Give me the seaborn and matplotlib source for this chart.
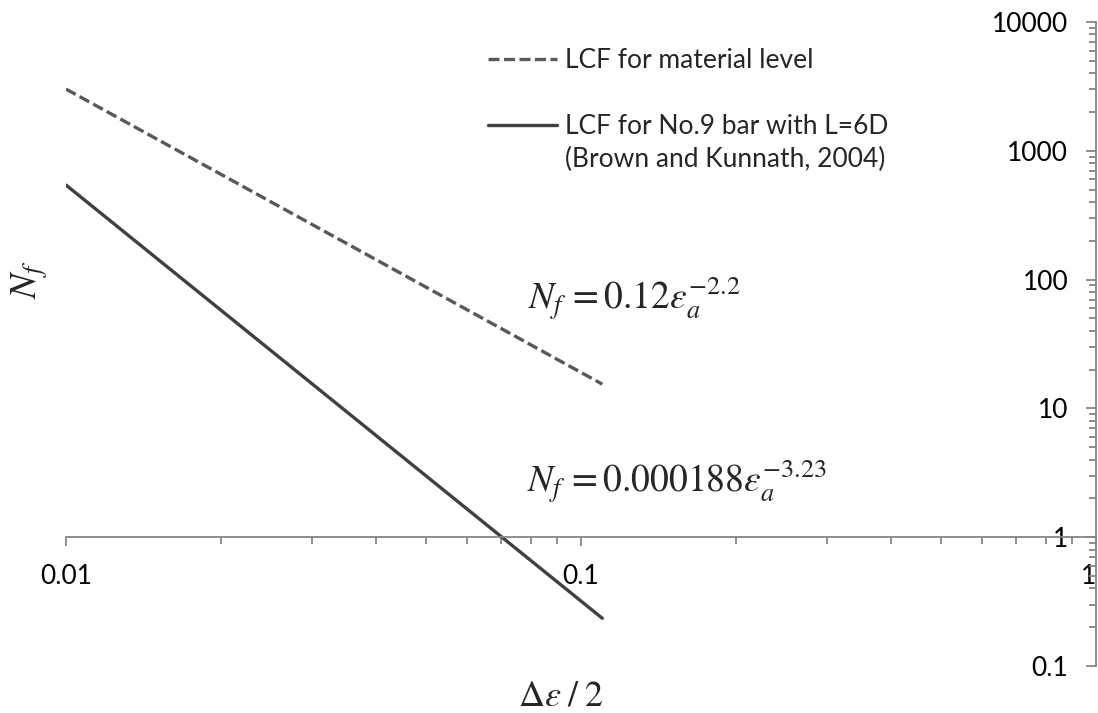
import numpy as np
import pandas as pd
import matplotlib
matplotlib.use("Agg")
import matplotlib.pyplot as plt
import seaborn as sns
from matplotlib.ticker import FixedLocator, LogLocator, NullFormatter
from matplotlib.lines import Line2D

# Low-cycle-fatigue power laws  N_f = C * eps_a ** b
series_names = ["LCF for material level", "LCF for No.9 bar with L=6D"]
coefficients = [0.12, 0.000188]
exponents = [-2.2, -3.23]
strain_range = [0.01, 0.11]
series_colors = ["#595959", "#404040"]

x_ticks = [0.01, 0.1, 1]
x_tick_labels = ["0.01", "0.1", "1"]
y_ticks = [0.1, 1, 10, 100, 1000, 10000]
y_tick_labels = ["0.1", "1", "10", "100", "1000", "10000"]

equation_labels = [r"$N_f\,=0.12\varepsilon_a^{-2.2}$",
                   r"$N_f\,=0.000188\varepsilon_a^{-3.23}$"]
source_note = "(Brown and Kunnath, 2004)"

rows = []
for name, c, b in zip(series_names, coefficients, exponents):
    for eps in strain_range:
        rows.append({"series": name, "strain": eps, "cycles": c * eps ** b})
df = pd.DataFrame(rows)

sns.set_theme(style="white")
plt.rcParams["font.family"] = ["Lato", "DejaVu Sans"]
plt.rcParams["mathtext.fontset"] = "stix"

W, H = 1098, 713
fig = plt.figure(figsize=(W / 100, H / 100), dpi=100)
ax_left, ax_right, ax_top, ax_bottom = 66, 1096, 22, 666
ax = fig.add_axes([ax_left / W, 1 - ax_bottom / H,
                   (ax_right - ax_left) / W, (ax_bottom - ax_top) / H])
ax.set_facecolor("white")

sns.lineplot(data=df, x="strain", y="cycles", hue="series", style="series",
             palette=series_colors, dashes={series_names[0]: (3.3, 1.35), series_names[1]: ""},
             linewidth=2.4, legend=False, ax=ax)

ax.set_xscale("log")
ax.set_yscale("log")
ax.set_xlim(0.01, 1)
ax.set_ylim(0.1, 10000)

axis_gray = "#868686"
for side in ["left", "top"]:
    ax.spines[side].set_visible(False)
ax.spines["bottom"].set_position(("data", 1))
for side in ["bottom", "right"]:
    ax.spines[side].set_color(axis_gray)
    ax.spines[side].set_linewidth(1.3)

# x axis crossing at N_f = 1
ax.xaxis.set_major_locator(FixedLocator(x_ticks))
ax.set_xticklabels(x_tick_labels)
ax.xaxis.set_minor_locator(LogLocator(base=10, subs=np.arange(2, 10)))
ax.xaxis.set_minor_formatter(NullFormatter())
ax.tick_params(axis="x", which="both", direction="out", color=axis_gray, width=1.3,
               bottom=True, top=False)
ax.tick_params(axis="x", which="major", length=6.5, pad=13, labelsize=19, labelcolor="black")
ax.tick_params(axis="x", which="minor", length=5)
# the last label sits on the figure's right edge; keep it inside
ax.get_xticklabels()[-1].set_horizontalalignment("right")

# y axis on the right edge, labels on its inner side
ax.yaxis.tick_right()
ax.yaxis.set_major_locator(FixedLocator(y_ticks))
ax.set_yticklabels(y_tick_labels)
ax.yaxis.set_minor_locator(LogLocator(base=10, subs=np.arange(2, 10)))
ax.yaxis.set_minor_formatter(NullFormatter())
ax.tick_params(axis="y", which="both", direction="in", color=axis_gray, width=1.3,
               left=False, right=True, labelleft=False, labelright=True)
ax.tick_params(axis="y", which="major", length=7, pad=-20, labelsize=19, labelcolor="black")
ax.tick_params(axis="y", which="minor", length=5)
for lbl in ax.get_yticklabels():
    lbl.set_horizontalalignment("right")

ax.set_xlabel(r"$\Delta\varepsilon\;/\;2$", fontsize=26, va="center")
ax.xaxis.set_label_coords((561 - ax_left) / (ax_right - ax_left),
                          (ax_bottom - 695) / (ax_bottom - ax_top))
ax.set_ylabel(r"$N_f$", fontsize=27, va="center")
ax.yaxis.set_label_coords((30 - ax_left) / (ax_right - ax_left),
                          (ax_bottom - 280) / (ax_bottom - ax_top))

# fitted-law annotations
fig.text(528 / W, 1 - 310 / H, equation_labels[0], fontsize=27, ha="left", va="baseline")
fig.text(527 / W, 1 - 493 / H, equation_labels[1], fontsize=27, ha="left", va="baseline")

handles = [
    Line2D([], [], color=series_colors[0], lw=2.4, dashes=(3.3, 1.35)),
    Line2D([], [], linestyle="none"),
    Line2D([], [], color=series_colors[1], lw=2.4),
    Line2D([], [], linestyle="none"),
]
labels = [series_names[0], " ", series_names[1], source_note]
ax.legend(handles, labels, loc="upper left",
          bbox_to_anchor=(488 / W, 1 - 48 / H), bbox_transform=fig.transFigure,
          frameon=False, fontsize=19, handlelength=2.6, handletextpad=0.3,
          labelspacing=0.30, borderpad=0, borderaxespad=0)

fig.savefig("out.png", dpi=100, facecolor="white")
